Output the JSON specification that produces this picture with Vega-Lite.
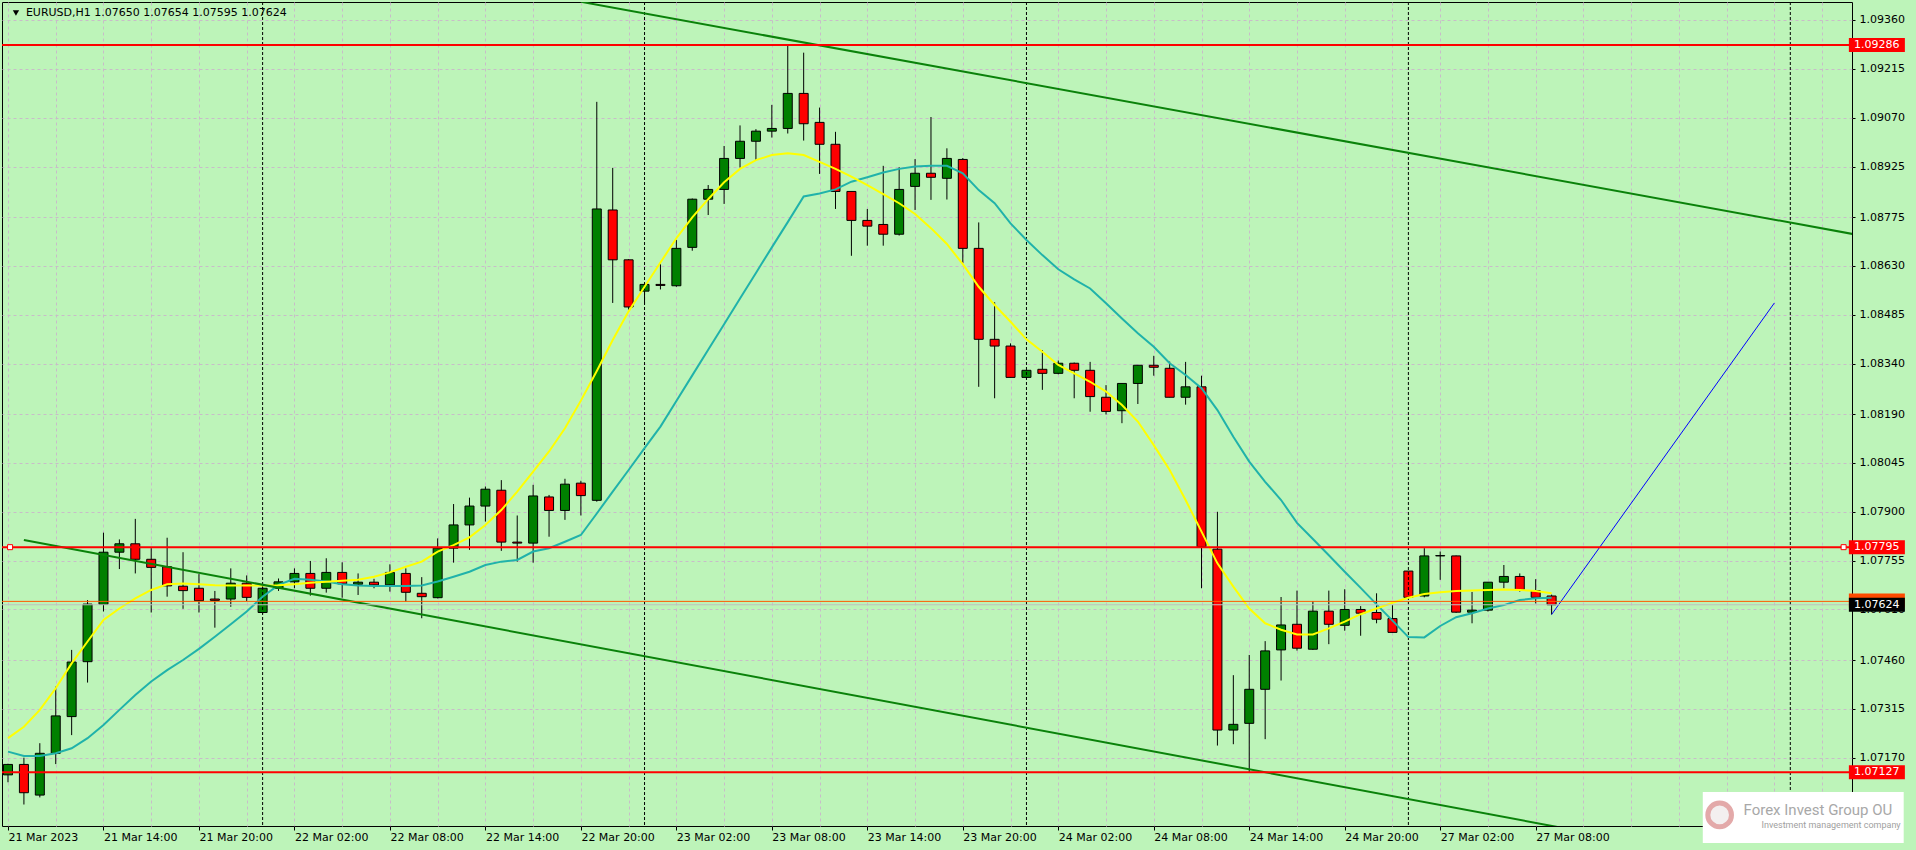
{
  "$schema": "https://vega.github.io/schema/vega-lite/v6.json",
  "width": 1850,
  "height": 824,
  "autosize": {"type": "none"},
  "padding": {"left": 2, "top": 2, "right": 64, "bottom": 24},
  "background": "#BDF4B9",
  "config": {
    "view": {"fill": "#BDF4B9", "stroke": "#000000", "strokeWidth": 1},
    "text": {"font": "DejaVu Sans", "fontSize": 11}
  },
  "datasets": {
    "bars": [
      {"i":0,"o":1.07119,"h":1.07152,"l":1.07097,"c":1.07150,"f":1.07228,"s":1.07188},
      {"i":1,"o":1.07150,"h":1.07170,"l":1.07031,"c":1.07066,"f":1.07262,"s":1.07175},
      {"i":2,"o":1.07059,"h":1.07213,"l":1.07052,"c":1.07183,"f":1.07312,"s":1.07175},
      {"i":3,"o":1.07183,"h":1.07381,"l":1.07151,"c":1.07294,"f":1.07376,"s":1.07183},
      {"i":4,"o":1.07292,"h":1.07490,"l":1.07237,"c":1.07454,"f":1.07450,"s":1.07198},
      {"i":5,"o":1.07455,"h":1.07638,"l":1.07393,"c":1.07626,"f":1.07515,"s":1.07228},
      {"i":6,"o":1.07625,"h":1.07838,"l":1.07604,"c":1.07780,"f":1.07579,"s":1.07267},
      {"i":7,"o":1.07780,"h":1.07818,"l":1.07730,"c":1.07805,"f":1.07613,"s":1.07312},
      {"i":8,"o":1.07805,"h":1.07879,"l":1.07717,"c":1.07759,"f":1.07643,"s":1.07356},
      {"i":9,"o":1.07759,"h":1.07792,"l":1.07601,"c":1.07735,"f":1.07668,"s":1.07396},
      {"i":10,"o":1.07737,"h":1.07823,"l":1.07648,"c":1.07680,"f":1.07685,"s":1.07430},
      {"i":11,"o":1.07679,"h":1.07780,"l":1.07612,"c":1.07666,"f":1.07687,"s":1.07460},
      {"i":12,"o":1.07673,"h":1.07715,"l":1.07601,"c":1.07636,"f":1.07685,"s":1.07493},
      {"i":13,"o":1.07641,"h":1.07665,"l":1.07556,"c":1.07637,"f":1.07682,"s":1.07529},
      {"i":14,"o":1.07641,"h":1.07732,"l":1.07618,"c":1.07688,"f":1.07681,"s":1.07566},
      {"i":15,"o":1.07688,"h":1.07711,"l":1.07635,"c":1.07646,"f":1.07681,"s":1.07604},
      {"i":16,"o":1.07601,"h":1.07680,"l":1.07597,"c":1.07673,"f":1.07681,"s":1.07648},
      {"i":17,"o":1.07673,"h":1.07702,"l":1.07665,"c":1.07692,"f":1.07682,"s":1.07683},
      {"i":18,"o":1.07692,"h":1.07732,"l":1.07673,"c":1.07717,"f":1.07685,"s":1.07701},
      {"i":19,"o":1.07717,"h":1.07754,"l":1.07651,"c":1.07673,"f":1.07689,"s":1.07698},
      {"i":20,"o":1.07673,"h":1.07762,"l":1.07660,"c":1.07720,"f":1.07692,"s":1.07693},
      {"i":21,"o":1.07720,"h":1.07750,"l":1.07645,"c":1.07686,"f":1.07695,"s":1.07685},
      {"i":22,"o":1.07685,"h":1.07717,"l":1.07653,"c":1.07691,"f":1.07698,"s":1.07681},
      {"i":23,"o":1.07691,"h":1.07701,"l":1.07673,"c":1.07683,"f":1.07707,"s":1.07680},
      {"i":24,"o":1.07683,"h":1.07744,"l":1.07663,"c":1.07720,"f":1.07720,"s":1.07680},
      {"i":25,"o":1.07717,"h":1.07732,"l":1.07633,"c":1.07661,"f":1.07737,"s":1.07680},
      {"i":26,"o":1.07658,"h":1.07706,"l":1.07584,"c":1.07648,"f":1.07752,"s":1.07681},
      {"i":27,"o":1.07645,"h":1.07821,"l":1.07643,"c":1.07792,"f":1.07782,"s":1.07693},
      {"i":28,"o":1.07792,"h":1.07923,"l":1.07749,"c":1.07861,"f":1.07801,"s":1.07707},
      {"i":29,"o":1.07861,"h":1.07942,"l":1.07787,"c":1.07917,"f":1.07824,"s":1.07722},
      {"i":30,"o":1.07917,"h":1.07975,"l":1.07871,"c":1.07967,"f":1.07861,"s":1.07742},
      {"i":31,"o":1.07964,"h":1.07994,"l":1.07784,"c":1.07810,"f":1.07905,"s":1.07752},
      {"i":32,"o":1.07810,"h":1.07889,"l":1.07752,"c":1.07807,"f":1.07960,"s":1.07757},
      {"i":33,"o":1.07807,"h":1.07980,"l":1.07749,"c":1.07947,"f":1.08019,"s":1.07782},
      {"i":34,"o":1.07944,"h":1.07950,"l":1.07826,"c":1.07904,"f":1.08079,"s":1.07792},
      {"i":35,"o":1.07904,"h":1.07998,"l":1.07876,"c":1.07982,"f":1.08148,"s":1.07811},
      {"i":36,"o":1.07985,"h":1.07992,"l":1.07889,"c":1.07948,"f":1.08230,"s":1.07831},
      {"i":37,"o":1.07934,"h":1.09117,"l":1.07930,"c":1.08799,"f":1.08318,"s":1.07895},
      {"i":38,"o":1.08796,"h":1.08921,"l":1.08520,"c":1.08648,"f":1.08410,"s":1.07960},
      {"i":39,"o":1.08648,"h":1.08650,"l":1.08500,"c":1.08508,"f":1.08495,"s":1.08024},
      {"i":40,"o":1.08555,"h":1.08575,"l":1.08516,"c":1.08575,"f":1.08568,"s":1.08089},
      {"i":41,"o":1.08575,"h":1.08635,"l":1.08560,"c":1.08572,"f":1.08640,"s":1.08153},
      {"i":42,"o":1.08571,"h":1.08707,"l":1.08568,"c":1.08682,"f":1.08712,"s":1.08229},
      {"i":43,"o":1.08685,"h":1.08830,"l":1.08675,"c":1.08828,"f":1.08774,"s":1.08305},
      {"i":44,"o":1.08828,"h":1.08870,"l":1.08781,"c":1.08857,"f":1.08828,"s":1.08381},
      {"i":45,"o":1.08857,"h":1.08986,"l":1.08814,"c":1.08949,"f":1.08878,"s":1.08457},
      {"i":46,"o":1.08949,"h":1.09047,"l":1.08922,"c":1.09000,"f":1.08918,"s":1.08533},
      {"i":47,"o":1.09000,"h":1.09036,"l":1.08944,"c":1.09030,"f":1.08944,"s":1.08609},
      {"i":48,"o":1.09030,"h":1.09108,"l":1.09011,"c":1.09038,"f":1.08959,"s":1.08685},
      {"i":49,"o":1.09038,"h":1.09283,"l":1.09023,"c":1.09142,"f":1.08964,"s":1.08760},
      {"i":50,"o":1.09142,"h":1.09263,"l":1.09002,"c":1.09052,"f":1.08959,"s":1.08836},
      {"i":51,"o":1.09056,"h":1.09100,"l":1.08903,"c":1.08991,"f":1.08939,"s":1.08845},
      {"i":52,"o":1.08991,"h":1.09028,"l":1.08799,"c":1.08851,"f":1.08918,"s":1.08857},
      {"i":53,"o":1.08851,"h":1.08851,"l":1.08660,"c":1.08765,"f":1.08895,"s":1.08880},
      {"i":54,"o":1.08765,"h":1.08799,"l":1.08690,"c":1.08748,"f":1.08870,"s":1.08893},
      {"i":55,"o":1.08753,"h":1.08927,"l":1.08690,"c":1.08724,"f":1.08843,"s":1.08907},
      {"i":56,"o":1.08724,"h":1.08923,"l":1.08720,"c":1.08857,"f":1.08816,"s":1.08918},
      {"i":57,"o":1.08866,"h":1.08947,"l":1.08796,"c":1.08905,"f":1.08784,"s":1.08925},
      {"i":58,"o":1.08905,"h":1.09072,"l":1.08826,"c":1.08893,"f":1.08742,"s":1.08927},
      {"i":59,"o":1.08890,"h":1.08979,"l":1.08827,"c":1.08949,"f":1.08695,"s":1.08927},
      {"i":60,"o":1.08946,"h":1.08950,"l":1.08638,"c":1.08682,"f":1.08635,"s":1.08905},
      {"i":61,"o":1.08682,"h":1.08759,"l":1.08271,"c":1.08412,"f":1.08568,"s":1.08855},
      {"i":62,"o":1.08412,"h":1.08522,"l":1.08237,"c":1.08392,"f":1.08514,"s":1.08816},
      {"i":63,"o":1.08392,"h":1.08400,"l":1.08299,"c":1.08299,"f":1.08464,"s":1.08756},
      {"i":64,"o":1.08299,"h":1.08320,"l":1.08295,"c":1.08320,"f":1.08412,"s":1.08707},
      {"i":65,"o":1.08323,"h":1.08380,"l":1.08262,"c":1.08311,"f":1.08375,"s":1.08662},
      {"i":66,"o":1.08311,"h":1.08349,"l":1.08308,"c":1.08341,"f":1.08336,"s":1.08620},
      {"i":67,"o":1.08341,"h":1.08343,"l":1.08237,"c":1.08320,"f":1.08311,"s":1.08590},
      {"i":68,"o":1.08320,"h":1.08345,"l":1.08197,"c":1.08242,"f":1.08286,"s":1.08563},
      {"i":69,"o":1.08240,"h":1.08276,"l":1.08189,"c":1.08198,"f":1.08257,"s":1.08519},
      {"i":70,"o":1.08200,"h":1.08281,"l":1.08163,"c":1.08281,"f":1.08217,"s":1.08474},
      {"i":71,"o":1.08281,"h":1.08335,"l":1.08220,"c":1.08335,"f":1.08168,"s":1.08430},
      {"i":72,"o":1.08335,"h":1.08363,"l":1.08304,"c":1.08329,"f":1.08098,"s":1.08390},
      {"i":73,"o":1.08326,"h":1.08346,"l":1.08240,"c":1.08240,"f":1.08024,"s":1.08341},
      {"i":74,"o":1.08240,"h":1.08345,"l":1.08218,"c":1.08271,"f":1.07935,"s":1.08306},
      {"i":75,"o":1.08271,"h":1.08304,"l":1.07673,"c":1.07796,"f":1.07841,"s":1.08267},
      {"i":76,"o":1.07789,"h":1.07900,"l":1.07206,"c":1.07252,"f":1.07747,"s":1.08202},
      {"i":77,"o":1.07252,"h":1.07415,"l":1.07210,"c":1.07269,"f":1.07678,"s":1.08123},
      {"i":78,"o":1.07272,"h":1.07475,"l":1.07126,"c":1.07373,"f":1.07613,"s":1.08049},
      {"i":79,"o":1.07373,"h":1.07516,"l":1.07225,"c":1.07487,"f":1.07569,"s":1.07989},
      {"i":80,"o":1.07490,"h":1.07647,"l":1.07399,"c":1.07564,"f":1.07550,"s":1.07935},
      {"i":81,"o":1.07566,"h":1.07666,"l":1.07488,"c":1.07495,"f":1.07536,"s":1.07867},
      {"i":82,"o":1.07492,"h":1.07635,"l":1.07490,"c":1.07605,"f":1.07536,"s":1.07819},
      {"i":83,"o":1.07605,"h":1.07666,"l":1.07507,"c":1.07566,"f":1.07554,"s":1.07771},
      {"i":84,"o":1.07563,"h":1.07670,"l":1.07547,"c":1.07610,"f":1.07574,"s":1.07722},
      {"i":85,"o":1.07610,"h":1.07620,"l":1.07532,"c":1.07599,"f":1.07596,"s":1.07674},
      {"i":86,"o":1.07601,"h":1.07658,"l":1.07569,"c":1.07581,"f":1.07613,"s":1.07625},
      {"i":87,"o":1.07583,"h":1.07623,"l":1.07542,"c":1.07542,"f":1.07630,"s":1.07577},
      {"i":88,"o":1.07724,"h":1.07724,"l":1.07646,"c":1.07646,"f":1.07645,"s":1.07528},
      {"i":89,"o":1.07650,"h":1.07792,"l":1.07646,"c":1.07769,"f":1.07656,"s":1.07527},
      {"i":90,"o":1.07769,"h":1.07782,"l":1.07698,"c":1.07770,"f":1.07661,"s":1.07561},
      {"i":91,"o":1.07769,"h":1.07770,"l":1.07600,"c":1.07602,"f":1.07665,"s":1.07587},
      {"i":92,"o":1.07602,"h":1.07662,"l":1.07569,"c":1.07608,"f":1.07666,"s":1.07599},
      {"i":93,"o":1.07608,"h":1.07691,"l":1.07604,"c":1.07691,"f":1.07668,"s":1.07613},
      {"i":94,"o":1.07691,"h":1.07742,"l":1.07673,"c":1.07708,"f":1.07669,"s":1.07623},
      {"i":95,"o":1.07708,"h":1.07717,"l":1.07663,"c":1.07669,"f":1.07668,"s":1.07638},
      {"i":96,"o":1.07666,"h":1.07700,"l":1.07628,"c":1.07646,"f":1.07665,"s":1.07643},
      {"i":97,"o":1.07650,"h":1.07654,"l":1.07595,"c":1.07624,"f":1.07658,"s":1.07645}
    ],
    "days": [{"i":16},{"i":40},{"i":64},{"i":88},{"i":112}],
    "channel": [
      {"g":"upper","i":36,"p":1.09414},
      {"g":"upper","i":116,"p":1.08724},
      {"g":"lower","i":1,"p":1.07816},
      {"g":"lower","i":100,"p":1.06941}
    ],
    "projection": [{"i":97,"p":1.07595},{"i":111,"p":1.08520}],
    "redlevels": [{"p":1.09286},{"p":1.07795},{"p":1.07127}],
    "orangelevel": [{"p":1.07634}],
    "bidlevel": [{"p":1.07624}],
    "anchors": [{"i":0.13,"p":1.07795},{"i":115.35,"p":1.07795}],
    "tagboxes": [
      {"p":1.09286,"k":"#FF0000"},
      {"p":1.07795,"k":"#FF0000"},
      {"p":1.07127,"k":"#FF0000"},
      {"p":1.07637,"k":"#FF4A00"},
      {"p":1.07624,"k":"#000000"}
    ],
    "tagtexts": [
      {"p":1.09286,"t":"1.09286"},
      {"p":1.07795,"t":"1.07795"},
      {"p":1.07127,"t":"1.07127"},
      {"p":1.07624,"t":"1.07624"}
    ]
  },
  "layer": [
    {
      "data": {"name": "bars"},
      "mark": {"type": "rule", "color": "#000000", "strokeWidth": 1, "clip": true},
      "encoding": {
        "x": {
          "field": "i", "type": "quantitative",
          "scale": {"domain": [-0.0625, 115.5625], "nice": false, "zero": false},
          "axis": {
            "orient": "bottom",
            "values": [0,3,6,9,12,15,18,21,24,27,30,33,36,39,42,45,48,51,54,57,60,63,66,69,72,75,78,81,84,87,90,93,96,99,102,105,108,111,114],
            "title": null, "domain": false,
            "grid": true, "gridColor": "#C8BCC8", "gridDash": [3, 3], "gridWidth": 1,
            "ticks": true, "tickSize": 4,
            "tickColor": {"condition": {"test": "datum.value % 6 === 0 && datum.value <= 96", "value": "#000000"}, "value": "transparent"},
            "labelExpr": "datum.value % 6 === 0 && datum.value <= 96 ? ['21 Mar 2023','21 Mar 14:00','21 Mar 20:00','22 Mar 02:00','22 Mar 08:00','22 Mar 14:00','22 Mar 20:00','23 Mar 02:00','23 Mar 08:00','23 Mar 14:00','23 Mar 20:00','24 Mar 02:00','24 Mar 08:00','24 Mar 14:00','24 Mar 20:00','27 Mar 02:00','27 Mar 08:00'][datum.value / 6] : ''",
            "labelAlign": "left", "labelBaseline": "top", "labelPadding": 1,
            "labelFont": "DejaVu Sans", "labelFontSize": 11, "labelColor": "#000000",
            "labelOverlap": false, "labelFlush": false, "labelBound": false
          }
        },
        "y": {
          "field": "l", "type": "quantitative",
          "scale": {"domain": [1.069672, 1.094134], "nice": false, "zero": false},
          "axis": {
            "orient": "right",
            "values": [1.0936,1.09215,1.0907,1.08925,1.08775,1.0863,1.08485,1.0834,1.0819,1.08045,1.079,1.07755,1.0761,1.0746,1.07315,1.0717],
            "format": ".5f", "title": null, "domain": false,
            "grid": true, "gridColor": "#C8BCC8", "gridDash": [3, 3], "gridWidth": 1,
            "ticks": true, "tickSize": 3, "tickColor": "#000000", "labelPadding": 4,
            "labelFont": "DejaVu Sans", "labelFontSize": 11, "labelColor": "#000000",
            "labelOverlap": false, "labelFlush": false, "labelBound": false
          }
        },
        "y2": {"field": "h"}
      }
    },
    {
      "data": {"name": "bars"},
      "mark": {"type": "bar", "width": 9, "stroke": "#000000", "strokeWidth": 1, "clip": true},
      "encoding": {
        "x": {"field": "i", "type": "quantitative", "scale": {"domain": [-0.0625, 115.5625], "nice": false, "zero": false}},
        "y": {"field": "o", "type": "quantitative", "scale": {"domain": [1.069672, 1.094134], "nice": false, "zero": false}},
        "y2": {"field": "c"},
        "fill": {"condition": {"test": "datum.c >= datum.o", "value": "#008000"}, "value": "#FF0000"}
      }
    },
    {
      "data": {"name": "days"},
      "mark": {"type": "rule", "color": "#000000", "strokeWidth": 1, "strokeDash": [3, 2], "clip": true},
      "encoding": {
        "x": {"field": "i", "type": "quantitative", "scale": {"domain": [-0.0625, 115.5625], "nice": false, "zero": false}}
      }
    },
    {
      "data": {"name": "bars"},
      "mark": {"type": "line", "color": "#20B2AA", "strokeWidth": 2, "clip": true},
      "encoding": {
        "x": {"field": "i", "type": "quantitative", "scale": {"domain": [-0.0625, 115.5625], "nice": false, "zero": false}},
        "y": {"field": "s", "type": "quantitative", "scale": {"domain": [1.069672, 1.094134], "nice": false, "zero": false}}
      }
    },
    {
      "data": {"name": "bars"},
      "mark": {"type": "line", "color": "#FFFF00", "strokeWidth": 2, "clip": true},
      "encoding": {
        "x": {"field": "i", "type": "quantitative", "scale": {"domain": [-0.0625, 115.5625], "nice": false, "zero": false}},
        "y": {"field": "f", "type": "quantitative", "scale": {"domain": [1.069672, 1.094134], "nice": false, "zero": false}}
      }
    },
    {
      "data": {"name": "channel"},
      "mark": {"type": "line", "color": "#0A820A", "strokeWidth": 2, "clip": true},
      "encoding": {
        "x": {"field": "i", "type": "quantitative", "scale": {"domain": [-0.0625, 115.5625], "nice": false, "zero": false}},
        "y": {"field": "p", "type": "quantitative", "scale": {"domain": [1.069672, 1.094134], "nice": false, "zero": false}},
        "detail": {"field": "g", "type": "nominal"}
      }
    },
    {
      "data": {"name": "projection"},
      "mark": {"type": "line", "color": "#0000FF", "strokeWidth": 1, "clip": true},
      "encoding": {
        "x": {"field": "i", "type": "quantitative", "scale": {"domain": [-0.0625, 115.5625], "nice": false, "zero": false}},
        "y": {"field": "p", "type": "quantitative", "scale": {"domain": [1.069672, 1.094134], "nice": false, "zero": false}}
      }
    },
    {
      "data": {"name": "bidlevel"},
      "mark": {"type": "rule", "color": "#C0C0C0", "strokeWidth": 1, "clip": true},
      "encoding": {
        "y": {"field": "p", "type": "quantitative", "scale": {"domain": [1.069672, 1.094134], "nice": false, "zero": false}}
      }
    },
    {
      "data": {"name": "orangelevel"},
      "mark": {"type": "rule", "color": "#FF5A00", "strokeWidth": 1, "clip": true},
      "encoding": {
        "y": {"field": "p", "type": "quantitative", "scale": {"domain": [1.069672, 1.094134], "nice": false, "zero": false}}
      }
    },
    {
      "data": {"name": "redlevels"},
      "mark": {"type": "rule", "color": "#FF0000", "strokeWidth": 2, "clip": true},
      "encoding": {
        "y": {"field": "p", "type": "quantitative", "scale": {"domain": [1.069672, 1.094134], "nice": false, "zero": false}}
      }
    },
    {
      "data": {"name": "anchors"},
      "mark": {"type": "point", "shape": "square", "size": 25, "filled": true, "fill": "#FFFFFF", "stroke": "#FF0000", "strokeWidth": 1, "opacity": 1},
      "encoding": {
        "x": {"field": "i", "type": "quantitative", "scale": {"domain": [-0.0625, 115.5625], "nice": false, "zero": false}},
        "y": {"field": "p", "type": "quantitative", "scale": {"domain": [1.069672, 1.094134], "nice": false, "zero": false}}
      }
    },
    {
      "data": {"name": "tagboxes"},
      "mark": {"type": "point", "shape": "M-1,-0.25L1,-0.25L1,0.25L-1,0.25Z", "size": 3136, "filled": true, "opacity": 1, "clip": false},
      "encoding": {
        "x": {"datum": 117.44, "type": "quantitative", "scale": {"domain": [-0.0625, 115.5625], "nice": false, "zero": false}},
        "y": {"field": "p", "type": "quantitative", "scale": {"domain": [1.069672, 1.094134], "nice": false, "zero": false}},
        "fill": {"field": "k", "type": "nominal", "scale": null}
      }
    },
    {
      "data": {"name": "tagtexts"},
      "mark": {"type": "text", "align": "left", "baseline": "middle", "fill": "#FFFFFF", "font": "DejaVu Sans", "fontSize": 11, "clip": false},
      "encoding": {
        "x": {"datum": 116.0, "type": "quantitative", "scale": {"domain": [-0.0625, 115.5625], "nice": false, "zero": false}},
        "y": {"field": "p", "type": "quantitative", "scale": {"domain": [1.069672, 1.094134], "nice": false, "zero": false}},
        "text": {"field": "t"}
      }
    },
    {
      "data": {"values": [{}]},
      "mark": {"type": "point", "shape": "triangle-down", "size": 40, "filled": true, "fill": "#000000", "opacity": 1},
      "encoding": {
        "x": {"datum": 0.5, "type": "quantitative", "scale": {"domain": [-0.0625, 115.5625], "nice": false, "zero": false}},
        "y": {"datum": 1.093808, "type": "quantitative", "scale": {"domain": [1.069672, 1.094134], "nice": false, "zero": false}}
      }
    },
    {
      "data": {"values": [{}]},
      "mark": {"type": "text", "align": "left", "baseline": "middle", "fill": "#000000", "font": "DejaVu Sans", "fontSize": 11},
      "encoding": {
        "x": {"datum": 1.125, "type": "quantitative", "scale": {"domain": [-0.0625, 115.5625], "nice": false, "zero": false}},
        "y": {"datum": 1.093808, "type": "quantitative", "scale": {"domain": [1.069672, 1.094134], "nice": false, "zero": false}},
        "text": {"value": "EURUSD,H1  1.07650 1.07654 1.07595 1.07624"}
      }
    },
    {
      "data": {"values": [{}]},
      "mark": {"type": "rect", "fill": "#FFFFFF", "clip": false},
      "encoding": {
        "x": {"datum": 106.5, "type": "quantitative", "scale": {"domain": [-0.0625, 115.5625], "nice": false, "zero": false}},
        "x2": {"datum": 119.125},
        "y": {"datum": 1.07068, "type": "quantitative", "scale": {"domain": [1.069672, 1.094134], "nice": false, "zero": false}},
        "y2": {"datum": 1.06917}
      }
    },
    {
      "data": {"values": [{}]},
      "mark": {"type": "point", "shape": "circle", "size": 560, "filled": true, "fill": "#F3EFEF", "stroke": "#E3A9A9", "strokeWidth": 5, "opacity": 1, "clip": false},
      "encoding": {
        "x": {"datum": 107.56, "type": "quantitative", "scale": {"domain": [-0.0625, 115.5625], "nice": false, "zero": false}},
        "y": {"datum": 1.07000, "type": "quantitative", "scale": {"domain": [1.069672, 1.094134], "nice": false, "zero": false}}
      }
    },
    {
      "data": {"values": [{}]},
      "mark": {"type": "text", "align": "left", "baseline": "middle", "fill": "#A8A8A8", "font": "Roboto", "fontSize": 15, "clip": false},
      "encoding": {
        "x": {"datum": 109.06, "type": "quantitative", "scale": {"domain": [-0.0625, 115.5625], "nice": false, "zero": false}},
        "y": {"datum": 1.07014, "type": "quantitative", "scale": {"domain": [1.069672, 1.094134], "nice": false, "zero": false}},
        "text": {"value": "Forex Invest Group OU"}
      }
    },
    {
      "data": {"values": [{}]},
      "mark": {"type": "text", "align": "left", "baseline": "middle", "fill": "#A0A0A0", "font": "Roboto", "fontSize": 9, "clip": false},
      "encoding": {
        "x": {"datum": 110.19, "type": "quantitative", "scale": {"domain": [-0.0625, 115.5625], "nice": false, "zero": false}},
        "y": {"datum": 1.06969, "type": "quantitative", "scale": {"domain": [1.069672, 1.094134], "nice": false, "zero": false}},
        "text": {"value": "Investment management company"}
      }
    }
  ]
}
